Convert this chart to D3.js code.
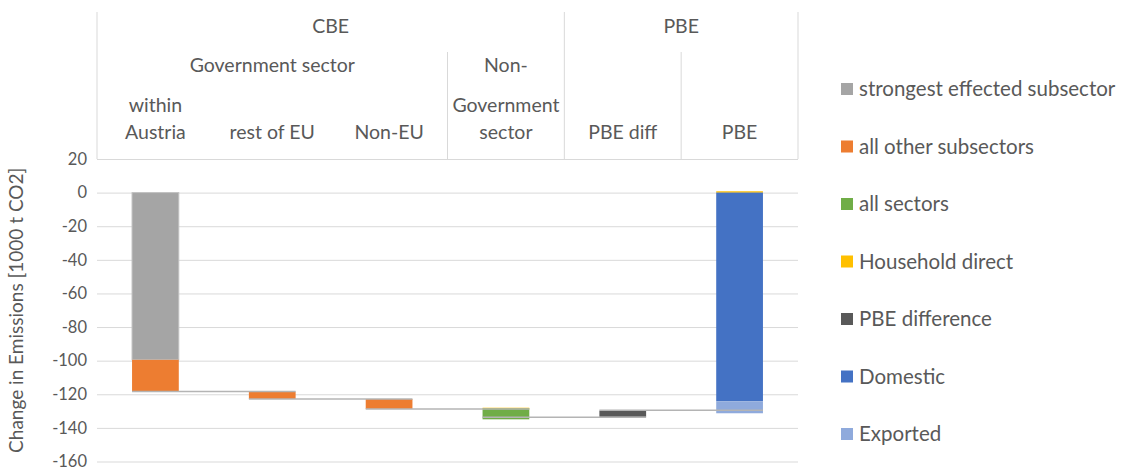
<!DOCTYPE html>
<html>
<head>
<meta charset="utf-8">
<script src="https://cdn.jsdelivr.net/npm/d3@7"></script>
<style>
  html, body { margin: 0; padding: 0; background: #fff; }
  svg text { font-family: Lato, "Open Sans", sans-serif; fill: #595959; }
</style>
</head>
<body>
<svg id="chart" width="1124" height="470"></svg>
<script>
// Categories of the waterfall
const categories = ["within Austria", "rest of EU", "Non-EU", "Non-Government sector", "PBE diff", "PBE"];

// Invisible base each stack starts from (1000 t CO2)
const base = [0, -118.4, -122.8, -128.0, -129.8, 0.8];

// Series values, stacked downward from the base in stackOrder
const strongestSubsector = [-99.5, 0, 0, 0, 0, 0];
const otherSubsectors    = [-18.9, -4.4, -5.9, 0, 0, 0];
const allSectors         = [0, 0, 0, -6.5, 0, 0];
const householdDirect    = [0, 0, 0, -0.4, 0, -0.8];
const pbeDifference      = [0, 0, 0, 0, -3.6, 0];
const domestic           = [0, 0, 0, 0, 0, -124.2];
const exported           = [0, 0, 0, 0, 0, -7.1];

// Running totals drawn as connectors between neighbouring bars
const connectorLevels = [-118.4, -122.8, -128.7, -133.7, -129.5];

// Y axis ticks
const yTicks = [20, 0, -20, -40, -60, -80, -100, -120, -140, -160];

const series = [
  { name: "strongest effected subsector", values: strongestSubsector, color: "#a5a5a5" },
  { name: "all other subsectors",         values: otherSubsectors,    color: "#ed7d31" },
  { name: "all sectors",                  values: allSectors,         color: "#70ad47" },
  { name: "Household direct",             values: householdDirect,    color: "#ffc000" },
  { name: "PBE difference",               values: pbeDifference,      color: "#595959" },
  { name: "Domestic",                     values: domestic,           color: "#4472c4" },
  { name: "Exported",                     values: exported,           color: "#8faadc" }
];
const stackOrder = ["strongest effected subsector", "all other subsectors", "Household direct",
                    "all sectors", "PBE difference", "Domestic", "Exported"];

const svg = d3.select("#chart");
const plotLeft = 97, plotRight = 798, plotTop = 159, plotBottom = 461.5;

const x = d3.scaleBand().domain(categories).range([plotLeft, plotRight])
  .paddingInner(0.6).paddingOuter(0.3);
const step = x.step();
const y = d3.scaleLinear().domain([-160, 20]).range([plotBottom, plotTop]);

// Gridlines and tick labels
const yAxis = d3.axisLeft(y).tickValues(yTicks).tickSize(-(plotRight - plotLeft)).tickPadding(10)
  .tickFormat(d => String(d));
const gy = svg.append("g").attr("transform", `translate(${plotLeft},0)`).call(yAxis);
gy.select(".domain").remove();
gy.selectAll(".tick line").attr("stroke", "#d9d9d9").attr("stroke-width", 1);
gy.selectAll(".tick text").attr("font-size", 16.5).style("font-family", "Lato, sans-serif").attr("fill", "#595959");

// Axis title
svg.append("text")
  .attr("transform", `translate(23,${(plotTop + plotBottom) / 2}) rotate(-90)`)
  .attr("text-anchor", "middle").attr("font-size", 19)
  .text("Change in Emissions [1000 t CO2]");

// Stacked segments
const segments = [];
categories.forEach((c, i) => {
  let cur = base[i];
  stackOrder.forEach(n => {
    const s = series.find(d => d.name === n);
    const v = s.values[i];
    if (v !== 0) {
      segments.push({ cat: c, from: cur, to: cur + v, color: s.color, name: n });
      cur += v;
    }
  });
});

svg.append("g").selectAll("rect").data(segments).join("rect")
  .attr("x", d => x(d.cat))
  .attr("width", x.bandwidth())
  .attr("y", d => y(Math.max(d.from, d.to)))
  .attr("height", d => Math.max(1.5, Math.abs(y(d.from) - y(d.to))))
  .attr("fill", d => d.color)
  .attr("stroke", d => d.name === "strongest effected subsector" ? "#c0c0c0" : "none")
  .attr("stroke-width", 1);

// Connectors: from left edge of a bar to right edge of the next one
svg.append("g").selectAll("line").data(connectorLevels).join("line")
  .attr("x1", (d, i) => x(categories[i]))
  .attr("x2", (d, i) => x(categories[i + 1]) + x.bandwidth())
  .attr("y1", d => y(d)).attr("y2", d => y(d))
  .attr("stroke", "#b4b4b4").attr("stroke-width", 1.5);

// Category header table
const hdr = svg.append("g");
const lineColor = "#d9d9d9";
const colLeft = i => plotLeft + i * step;
const vlines = [
  { x: colLeft(0), y1: 12 }, { x: colLeft(4), y1: 12 }, { x: colLeft(6), y1: 12 },
  { x: colLeft(3), y1: 52 }, { x: colLeft(5), y1: 52 }
];
hdr.selectAll("line").data(vlines).join("line")
  .attr("x1", d => d.x).attr("x2", d => d.x)
  .attr("y1", d => d.y1).attr("y2", plotTop)
  .attr("stroke", lineColor).attr("stroke-width", 1);

// Each label: text lines with their baselines
const headerLabels = [
  { lines: [["CBE", 33]], from: 0, to: 4 },
  { lines: [["PBE", 33]], from: 4, to: 6 },
  { lines: [["Government sector", 72]], from: 0, to: 3 },
  { lines: [["Non-", 72], ["Government", 112], ["sector", 139]], from: 3, to: 4 },
  { lines: [["within", 112], ["Austria", 139]], from: 0, to: 1 },
  { lines: [["rest of EU", 139]], from: 1, to: 2 },
  { lines: [["Non-EU", 139]], from: 2, to: 3 },
  { lines: [["PBE diff", 139]], from: 4, to: 5 },
  { lines: [["PBE", 139]], from: 5, to: 6 }
];
headerLabels.forEach(h => {
  const cx = (colLeft(h.from) + colLeft(h.to)) / 2;
  const t = hdr.append("text").attr("text-anchor", "middle").attr("font-size", 19.5);
  h.lines.forEach(([l, by]) => {
    t.append("tspan").attr("x", cx).attr("y", by).text(l);
  });
});

// Legend
const lg = svg.append("g");
series.forEach((s, i) => {
  const cy = 89 + i * 57.5;
  lg.append("rect").attr("x", 841).attr("y", cy - 6).attr("width", 12).attr("height", 12).attr("fill", s.color);
  lg.append("text").attr("x", 859).attr("y", cy).attr("dy", "0.35em").attr("font-size", 20.5).text(s.name);
});
</script>
</body>
</html>
